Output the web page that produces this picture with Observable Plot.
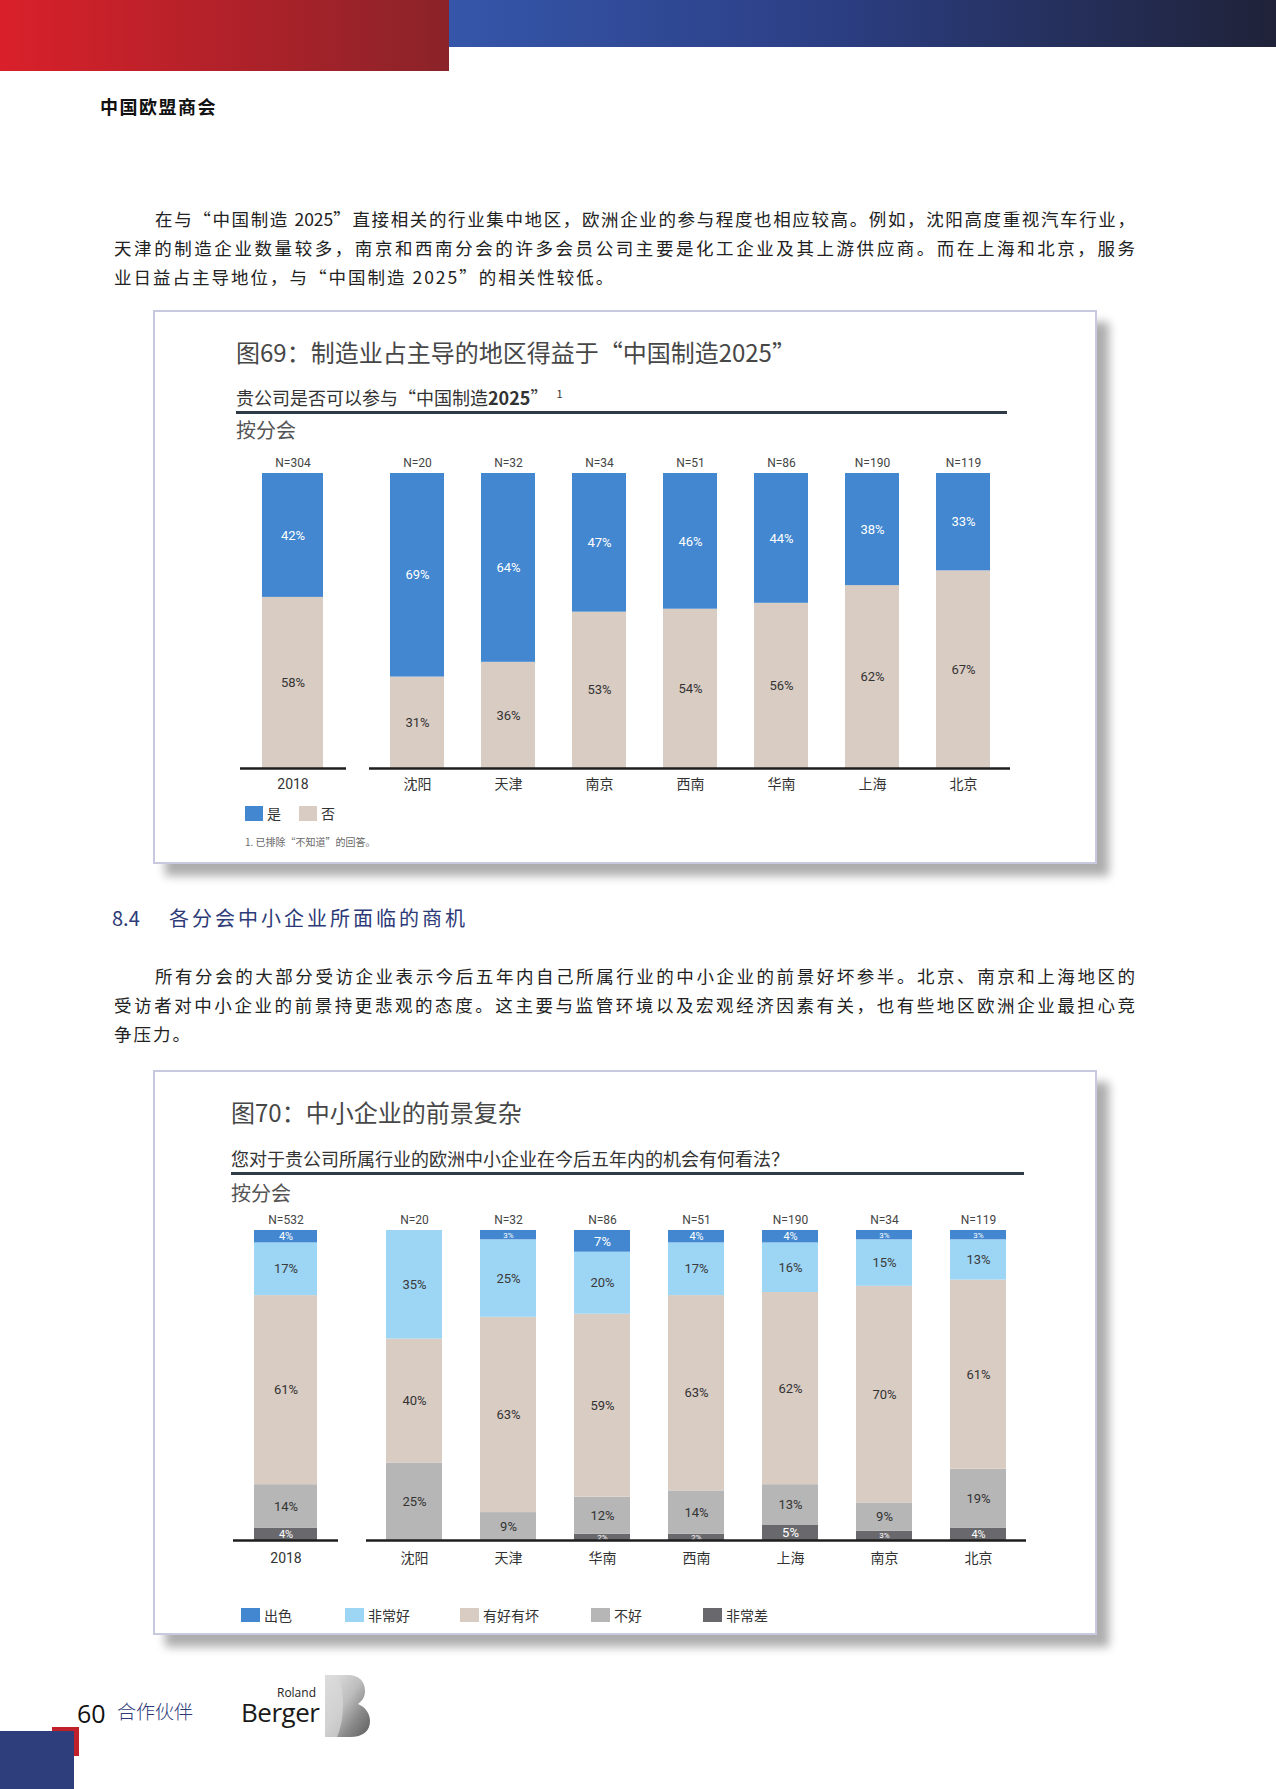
<!DOCTYPE html>
<html>
<head>
<meta charset="utf-8">
<script src="https://cdn.jsdelivr.net/npm/d3@7"></script>
<script src="https://cdn.jsdelivr.net/npm/@observablehq/plot@0.6"></script>
<style>
  body { margin: 0; background: #fff; }
  #page { position: relative; width: 1276px; height: 1789px; overflow: hidden; background: #fff;
          font-family: "Noto Sans CJK SC", "Noto Sans", sans-serif; color: #222; }
  .abs { position: absolute; white-space: nowrap; }
  .para { position: absolute; left: 114px; width: 1021px; font-size: 17.5px; line-height: 29px; color: #222; }
  .line { text-align: justify; text-align-last: justify; }
  .line.first { padding-left: 41px; }
  .line.last { text-align-last: left; }
  .card { position: absolute; left: 153px; width: 940px; border: 2px solid #c8c9de; background: #fff;
          box-shadow: 12px 12px 9px rgba(0,0,0,0.32); }
  .title { font-size: 24px; line-height: 30px; color: #474747; }
  .sub { font-size: 18px; line-height: 24px; color: #333; }
  .by { font-size: 20px; line-height: 26px; color: #555; }
  .rule { position: absolute; height: 3px; background: #2e3a46; }
  .sw { position: absolute; }
  .lg { font-size: 14px; line-height: 18px; color: #333; }
</style>
</head>
<body>
<div id="page">
  <!-- header bars -->
  <div class="abs" style="left:0;top:0;width:449px;height:71px;background:linear-gradient(to right,#d9202a,#8a2329);"></div>
  <div class="abs" style="left:449px;top:0;width:827px;height:47px;background:linear-gradient(to right,#3556aa,#2c3f85 45%,#1f2238);"></div>
  <div class="abs" style="left:100px;top:93px;font-size:18px;line-height:26px;font-weight:bold;letter-spacing:1.5px;color:#111;">中国欧盟商会</div>

  <div class="para" style="top:203.5px;">
    <div class="line first">在与“中国制造 2025”直接相关的行业集中地区，欧洲企业的参与程度也相应较高。例如，沈阳高度重视汽车行业，</div>
    <div class="line">天津的制造企业数量较多，南京和西南分会的许多会员公司主要是化工企业及其上游供应商。而在上海和北京，服务</div>
    <div class="line last" style="letter-spacing:2px;">业日益占主导地位，与“中国制造 2025”的相关性较低。</div>
  </div>

  <!-- card 1 -->
  <div class="card" style="top:310px;height:550px;"></div>
  <div class="abs title" style="left:236px;top:337px;">图69：制造业占主导的地区得益于“中国制造2025”</div>
  <div class="abs sub" style="left:236px;top:385px;">贵公司是否可以参与“中国制造<b>2025</b>”<span style="font-size:11px;position:relative;top:-7px;margin-left:8px;">1</span></div>
  <div class="rule" style="left:236px;top:411px;width:771px;"></div>
  <div class="abs by" style="left:236px;top:417px;">按分会</div>
  <div id="legend1"></div>
  <div class="abs" style="left:245px;top:835px;font-size:10px;line-height:14px;color:#666;">1. 已排除“不知道”的回答。</div>

  <div class="abs" style="left:112px;top:904px;font-size:20px;line-height:28px;color:#2d3a78;">8.4</div>
  <div class="abs" style="left:169px;top:904px;font-size:20px;line-height:28px;letter-spacing:3px;color:#2d3a78;">各分会中小企业所面临的商机</div>

  <div class="para" style="top:960.5px;">
    <div class="line first">所有分会的大部分受访企业表示今后五年内自己所属行业的中小企业的前景好坏参半。北京、南京和上海地区的</div>
    <div class="line">受访者对中小企业的前景持更悲观的态度。这主要与监管环境以及宏观经济因素有关，也有些地区欧洲企业最担心竞</div>
    <div class="line last" style="letter-spacing:2px;">争压力。</div>
  </div>

  <!-- card 2 -->
  <div class="card" style="top:1070px;height:561px;"></div>
  <div class="abs title" style="left:231px;top:1097px;">图70：中小企业的前景复杂</div>
  <div class="abs sub" style="left:231px;top:1146px;">您对于贵公司所属行业的欧洲中小企业在今后五年内的机会有何看法？</div>
  <div class="rule" style="left:231px;top:1172px;width:793px;"></div>
  <div class="abs by" style="left:231px;top:1180px;">按分会</div>
  <div id="legend2"></div>

  <!-- footer -->
  <div class="abs" style="left:52px;top:1727px;width:27px;height:29px;background:#c0202a;"></div>
  <div class="abs" style="left:0;top:1731px;width:74px;height:58px;background:#2e3d7c;"></div>
  <div class="abs" style="left:77px;top:1696px;font-family:'Open Sans','Noto Sans',sans-serif;font-size:25px;line-height:34px;color:#111;">60</div>
  <div class="abs" style="left:117px;top:1697px;font-size:19px;line-height:28px;color:#2d3a78;font-weight:300;">合作伙伴</div>
  <div class="abs" style="left:276px;top:1686px;width:40px;text-align:right;font-family:'Open Sans','Noto Sans',sans-serif;font-size:12px;line-height:13px;color:#222;">Roland</div>
  <div class="abs" style="left:241px;top:1700px;font-family:'Open Sans','Noto Sans',sans-serif;font-size:26px;line-height:24px;color:#1a1a1a;letter-spacing:-0.5px;">Berger</div>
  <svg class="abs" style="left:325px;top:1675px;" width="46" height="62" viewBox="0 0 46 62">
    <defs>
      <linearGradient id="silver" x1="0" y1="0" x2="1" y2="1">
        <stop offset="0" stop-color="#e6e6e6"/>
        <stop offset="0.45" stop-color="#bdbdbd"/>
        <stop offset="0.7" stop-color="#8a8a8a"/>
        <stop offset="1" stop-color="#5d5d5d"/>
      </linearGradient>
    </defs>
    <path d="M0,0 H22 C36,0 40,8 40,16 C40,22 37,26 33,29 C40,32 45,38 45,46 C45,56 38,62 25,62 H0 Z" fill="url(#silver)"/>
    <path d="M12,0 C20,14 20,44 12,62 H0 V0 Z" fill="#d8d8d8" opacity="0.7"/>
  </svg>
</div>

<script>
// ---------- data: figure 69 ----------
const cats1 = ["2018", "沈阳", "天津", "南京", "西南", "华南", "上海", "北京"];
const n1 = [304, 20, 32, 34, 51, 86, 190, 119];
const yes1 = [42, 69, 64, 47, 46, 44, 38, 33];
const no1 = [58, 31, 36, 53, 54, 56, 62, 67];
const keys1 = ["否", "是"];                 // bottom to top
const colors1 = {"是": "#4287d0", "否": "#d9ccc3"};
const textColors1 = {"是": "#ffffff", "否": "#333333"};

// ---------- data: figure 70 ----------
const cats2 = ["2018", "沈阳", "天津", "华南", "西南", "上海", "南京", "北京"];
const n2 = [532, 20, 32, 86, 51, 190, 34, 119];
const excellent2 = [4, 0, 3, 7, 4, 4, 3, 3];
const veryGood2 = [17, 35, 25, 20, 17, 16, 15, 13];
const mixed2 = [61, 40, 63, 59, 63, 62, 70, 61];
const bad2 = [14, 25, 9, 12, 14, 13, 9, 19];
const veryBad2 = [4, 0, 0, 2, 2, 5, 3, 4];
const keys2 = ["非常差", "不好", "有好有坏", "非常好", "出色"];   // bottom to top
const legend2 = ["出色", "非常好", "有好有坏", "不好", "非常差"];
const colors2 = {"出色": "#4287d0", "非常好": "#9dd5f4", "有好有坏": "#d9ccc3", "不好": "#b6b6b6", "非常差": "#69696d"};
const textColors2 = {"出色": "#ffffff", "非常好": "#3a3a3a", "有好有坏": "#333333", "不好": "#333333", "非常差": "#ffffff"};

const FONT = '"Liberation Sans Narrow","Arial Narrow","Roboto","Noto Sans CJK SC",sans-serif';
const page = document.getElementById("page");

function chart({cats, n, keys, values, colors, textColors, frameLeft, frameWidth, padIn, padOut,
                top, frameTop, frameBottom, tickPad, pctSize}) {
  const ML = 20, MR = 20, MB = 40;
  const rows = [];
  cats.forEach((c, i) => keys.forEach((k, j) => rows.push({cat: c, key: k, value: values[j][i]})));
  const tops = cats.map((c, i) => ({cat: c, n: n[i], total: d3.sum(values, v => v[i])}));
  const svg = Plot.plot({
    width: frameWidth + ML + MR,
    height: frameBottom - top + MB,
    marginLeft: ML, marginRight: MR,
    marginTop: frameTop - top, marginBottom: MB,
    x: {domain: cats, paddingInner: padIn, paddingOuter: padOut, label: null, tickSize: 0, tickPadding: tickPad},
    y: {domain: [0, 100], axis: null},
    color: {type: "identity"},
    style: {fontFamily: FONT, fontSize: "14px", color: "#333", background: "transparent", overflow: "visible", maxWidth: "none"},
    marks: [
      Plot.barY(rows, Plot.stackY({x: "cat", y: "value", z: "key", fill: d => colors[d.key]})),
      Plot.text(rows, Plot.stackY({
        x: "cat", y: "value", z: "key",
        text: d => d.value > 0 ? d.value + "%" : "",
        fill: d => textColors[d.key],
        fontSize: d => pctSize(d.value)
      })),
      Plot.text(tops, {x: "cat", y: "total", text: d => "N=" + d.n, dy: -10, fontSize: 12, fill: "#444"}),
      Plot.ruleY([0], {stroke: "#1e1e1e", strokeWidth: 2.5})
    ]
  });
  svg.style.position = "absolute";
  svg.style.left = (frameLeft - ML) + "px";
  svg.style.top = top + "px";
  page.appendChild(svg);
}

const vals1 = [no1, yes1];
const sub = (arr, a, b) => arr.slice(a, b);
const pct1 = v => 13;
// figure 69: 2018 group and regions group
chart({cats: sub(cats1, 0, 1), n: sub(n1, 0, 1), keys: keys1, values: vals1.map(v => v.slice(0, 1)),
       colors: colors1, textColors: textColors1, frameLeft: 240, frameWidth: 106, padIn: 0.262, padOut: 0.262,
       top: 440, frameTop: 473, frameBottom: 768, tickPad: 11, pctSize: pct1});
chart({cats: sub(cats1, 1), n: sub(n1, 1), keys: keys1, values: vals1.map(v => v.slice(1)),
       colors: colors1, textColors: textColors1, frameLeft: 369, frameWidth: 641, padIn: 0.41, padOut: 0.22,
       top: 440, frameTop: 473, frameBottom: 768, tickPad: 11, pctSize: pct1});

const vals2 = [veryBad2, bad2, mixed2, veryGood2, excellent2];
const pct2 = v => v <= 3 ? 8 : (v <= 4 ? 11 : 13);
chart({cats: sub(cats2, 0, 1), n: sub(n2, 0, 1), keys: keys2, values: vals2.map(v => v.slice(0, 1)),
       colors: colors2, textColors: textColors2, frameLeft: 233, frameWidth: 105, padIn: 0.25, padOut: 0.25,
       top: 1195, frameTop: 1230, frameBottom: 1540, tickPad: 13, pctSize: pct2});
chart({cats: sub(cats2, 1), n: sub(n2, 1), keys: keys2, values: vals2.map(v => v.slice(1)),
       colors: colors2, textColors: textColors2, frameLeft: 366, frameWidth: 660, padIn: 0.406, padOut: 0.2,
       top: 1195, frameTop: 1230, frameBottom: 1540, tickPad: 13, pctSize: pct2});

// legends
function legend(el, items, colors, xs, cy, sw, sh, gap) {
  const host = document.getElementById(el);
  items.forEach((k, i) => {
    const s = document.createElement("div");
    s.className = "sw";
    s.style.cssText = `left:${xs[i]}px;top:${cy - sh / 2}px;width:${sw}px;height:${sh}px;background:${colors[k]};`;
    host.appendChild(s);
    const t = document.createElement("div");
    t.className = "abs lg";
    t.style.left = (xs[i] + sw + gap) + "px";
    t.style.top = (cy - 9) + "px";
    t.textContent = k;
    host.appendChild(t);
  });
}
legend("legend1", ["是", "否"], colors1, [245, 299], 813, 18, 15, 4);
legend("legend2", legend2, colors2, [241, 345, 460, 591, 703], 1615, 19, 14, 4);
</script>
</body>
</html>
